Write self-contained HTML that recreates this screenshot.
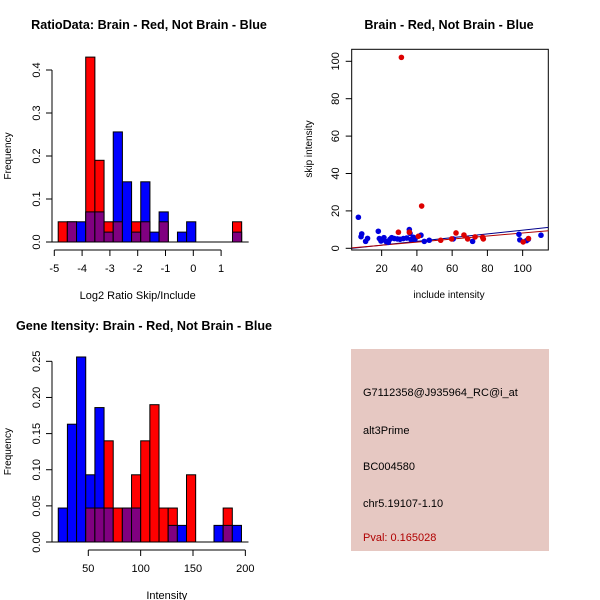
<!DOCTYPE html>
<html><head><meta charset="utf-8"><style>
body{margin:0;background:#fff}
svg{display:block;font-family:"Liberation Sans",Arial,sans-serif}
</style></head><body>
<svg id="c" width="600" height="600" viewBox="0 0 600 600">
<rect width="600" height="600" fill="#fff"/>
<text x="149" y="29" font-size="12.6" font-weight="bold" text-anchor="middle">RatioData: Brain - Red, Not Brain - Blue</text>
<text x="449" y="29" font-size="12.6" font-weight="bold" text-anchor="middle">Brain - Red, Not Brain - Blue</text>
<text x="144" y="330" font-size="12.6" font-weight="bold" text-anchor="middle">Gene Itensity: Brain - Red, Not Brain - Blue</text>
<g id="p1"></g>
<g id="p2"></g>
<g id="p3"></g>
<g>
<rect x="351" y="349" width="198" height="202" fill="#e6c8c2"/>
<g font-size="11" fill="#000">
<text x="363" y="396">G7112358@J935964_RC@i_at</text>
<text x="363" y="434">alt3Prime</text>
<text x="363" y="470">BC004580</text>
<text x="363" y="507">chr5.19107-1.10</text>
<text x="363" y="541" fill="#b00000">Pval: 0.165028</text>
</g></g>
</svg>
<script>
// Ratio histogram data
const ratioBinStart=-4.86, ratioBinWidth=0.33;
const ratioRed=[0.047,0.047,0,0.43,0.19,0.047,0.047,0,0.047,0.047,0,0.047,0,0,0,0,0,0,0,0.047];
const ratioBlue=[0,0.047,0.047,0.07,0.07,0.023,0.256,0.14,0.023,0.14,0.023,0.07,0,0.023,0.047,0,0,0,0,0.023];
const ratioXTicks=[-5,-4,-3,-2,-1,0,1];
const ratioYTicks=["0.0","0.1","0.2","0.3","0.4"];
// Intensity histogram data
const intBinStart=21.3, intBinWidth=8.75;
const intRed=[0,0,0,0.047,0.047,0.14,0.047,0.047,0.093,0.14,0.19,0.047,0.047,0,0.093,0,0,0,0.047,0];
const intBlue=[0.047,0.163,0.256,0.093,0.186,0.047,0,0.047,0.047,0,0,0,0.023,0.023,0,0,0,0.023,0.023,0.023];
const intXTicks=[50,100,150,200];
const intYTicks=["0.00","0.05","0.10","0.15","0.20","0.25"];
// Scatter data
const blueX=[6.8,8.7,8.3,10.9,12,18.1,18.7,19.6,21.3,22.5,23.8,24.7,25.7,27.2,28.9,30.4,32.3,34.2,35.7,36.1,36.6,38,38.9,42.3,44.2,47,60.6,71.6,97.9,98.4,102.2,103.2,110.4];
const blueY=[16.6,7.7,6.2,3.7,5.3,9.1,5.2,3.9,5.7,3.6,3.2,4.8,5.7,5.2,5,4.8,5.2,5.5,10,8,4.8,5.9,4.8,7,3.7,4.3,5,3.7,7.5,4.5,4.1,4.8,7];
const redX=[31.2,42.7,29.5,35.7,40.8,53.5,59.7,62.2,66.7,68.8,73,77.3,77.7,100.3,103.3];
const redY=[102.1,22.6,8.6,8.6,6.4,4.3,5,8.2,7.1,5,6.1,5.9,5,3.4,5.2];
const blueFit=[-0.3,0.1]; // intercept, slope
const redFit=[0,0.082];
const scXTicks=[20,40,60,80,100];
const scYTicks=[0,20,40,60,80,100];

const NS="http://www.w3.org/2000/svg";
function mk(p,t,a){const e=document.createElementNS(NS,t);for(const k in a)e.setAttribute(k,a[k]);p.appendChild(e);return e;}

function hist(g,red,blue,start,w,sx,sy,xTicks,yTicks,yStep,axX0,axYLeft,xlab){
  for(let i=0;i<red.length;i++){
    const x0=sx(start+i*w),x1=sx(start+(i+1)*w);
    const r=red[i],b=blue[i];
    const hi=Math.max(r,b),lo=Math.min(r,b);
    if(hi>0){
      const bar=mk(g,'rect',{x:x0,y:sy(hi),width:x1-x0,height:sy(0)-sy(hi),fill:r>=b?'#ff0000':'#0000ff',stroke:'#000','stroke-width':1});
      
      
    }
    if(lo>0){
      const ov=mk(g,'rect',{x:x0,y:sy(lo),width:x1-x0,height:sy(0)-sy(lo),fill:'#800080',stroke:'#000','stroke-width':1});
      
      
    }
  }
  mk(g,'line',{x1:axYLeft,x2:sx(start+red.length*w)+7,y1:sy(0),y2:sy(0),stroke:'#000'});
  const xa=mk(g,'g',{});
  
  
  const ay=sy(0)+8;
  mk(xa,'line',{x1:sx(xTicks[0]),x2:sx(xTicks[xTicks.length-1]),y1:ay,y2:ay,stroke:'#000'});
  xTicks.forEach(v=>{mk(xa,'line',{x1:sx(v),x2:sx(v),y1:ay,y2:ay+6,stroke:'#000'});
    const t=mk(xa,'text',{x:sx(v),y:ay+22,'font-size':11,'text-anchor':'middle'});t.textContent=v;});
  const xl=mk(g,'text',{x:(sx(xTicks[0])+sx(xTicks[xTicks.length-1]))/2,y:sy(0)+57,'font-size':11,'text-anchor':'middle'});
  xl.textContent=xlab;
  
  
  yaxis(g,yTicks,v=>sy(v*yStep),axYLeft,'Frequency',yTicks.map((s,i)=>i));
}
function yaxis(g,labels,pos,x,title,vals){
  const ya=mk(g,'g',{});
  
  
  mk(ya,'line',{x1:x,x2:x,y1:pos(vals[0]),y2:pos(vals[vals.length-1]),stroke:'#000'});
  vals.forEach((v,i)=>{const y=pos(v);mk(ya,'line',{x1:x-6,x2:x,y1:y,y2:y,stroke:'#000'});
    const t=mk(ya,'text',{x:x-12,y:y,'font-size':11,'text-anchor':'middle',transform:`rotate(-90 ${x-12} ${y})`});t.textContent=labels[i];});
  const yl=mk(g,'text',{x:0,y:0,'font-size':10,'text-anchor':'middle'});
  const cy=(pos(vals[0])+pos(vals[vals.length-1]))/2;
  yl.setAttribute('transform',`translate(11 ${cy}) rotate(-90)`);
  yl.textContent=title;
  
  
}
// Plot 1
{const sx=v=>54.3+(v+5)*27.8, sy=v=>242-v*430;
 hist(document.getElementById('p1'),ratioRed,ratioBlue,ratioBinStart,ratioBinWidth,sx,sy,ratioXTicks,ratioYTicks,0.1,52,52,'Log2 Ratio Skip/Include');}
// Plot 2
{const sx=v=>88.3+(v-50)*1.047, sy=v=>542-v*722.7;
 hist(document.getElementById('p2'),intRed,intBlue,intBinStart,intBinWidth,sx,sy,intXTicks,intYTicks,0.05,52,52,'Intensity');}
// Plot 3
{const g=document.getElementById('p3');
 const sx=v=>346.4+v*1.7625, sy=v=>248.3-v*1.87;
 mk(g,'rect',{x:351.7,y:49.3,width:196.6,height:200.7,fill:'none',stroke:'#000'});
 const cp=mk(g,'clipPath',{id:'clp'});mk(cp,'rect',{x:351.7,y:49.3,width:196.6,height:200.7});
 const lines=mk(g,'g',{'clip-path':'url(#clp)'});
 [[blueFit,'#00008b','blue-fit-line'],[redFit,'#b00000','red-fit-line']].forEach(([f,c,n])=>{
   const l=mk(lines,'line',{x1:sx(0),x2:sx(120),y1:sy(f[0]),y2:sy(f[0]+f[1]*120),stroke:c,'stroke-width':1});
   
   });
 blueX.forEach((x,i)=>{const c=mk(g,'circle',{cx:sx(x),cy:sy(blueY[i]),r:2.8,fill:'#0000dd'});
   
   });
 redX.forEach((x,i)=>{const c=mk(g,'circle',{cx:sx(x),cy:sy(redY[i]),r:2.8,fill:'#dd0000'});
   
   });
 const xa=mk(g,'g',{});
 
 
 scXTicks.forEach(v=>{mk(xa,'line',{x1:sx(v),x2:sx(v),y1:250,y2:256,stroke:'#000'});
   const t=mk(xa,'text',{x:sx(v),y:272,'font-size':11,'text-anchor':'middle'});t.textContent=v;});
 const xl=mk(g,'text',{x:449,y:298,'font-size':10,'text-anchor':'middle'});xl.textContent='include intensity';
 
 
 const ya=mk(g,'g',{});
 
 
 scYTicks.forEach(v=>{const y=sy(v);mk(ya,'line',{x1:345.7,x2:351.7,y1:y,y2:y,stroke:'#000'});
   const t=mk(ya,'text',{x:339,y:y,'font-size':11,'text-anchor':'middle',transform:`rotate(-90 339 ${y})`});t.textContent=v;});
 const yl=mk(g,'text',{x:0,y:0,'font-size':10,'text-anchor':'middle',transform:'translate(312 149) rotate(-90)'});yl.textContent='skip intensity';
 
 }
</script>
</body></html>
